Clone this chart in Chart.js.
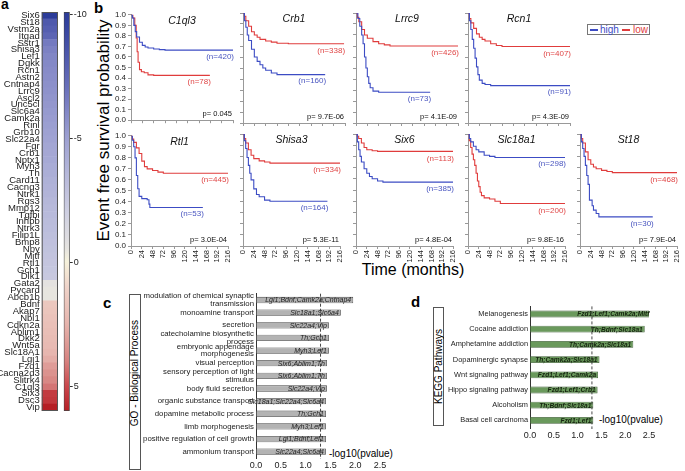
<!DOCTYPE html>
<html><head><meta charset="utf-8">
<script src="https://cdn.jsdelivr.net/npm/chart.js@4.4.1/dist/chart.umd.min.js"></script>
<style>
html,body{margin:0;padding:0;background:#fff;}
body{width:685px;height:471px;position:relative;overflow:hidden;font-family:'Liberation Sans',Arial,sans-serif;color:#000;}
.t{position:absolute;white-space:nowrap;line-height:1;}
.pl{font-weight:bold;font-size:15px;}
.nar{font-family:'Liberation Sans Narrow','Liberation Sans',Arial,sans-serif;}
.vbox{position:absolute;border:1px solid #555;box-sizing:border-box;display:flex;align-items:center;justify-content:center;}
.vbox span{writing-mode:vertical-rl;transform:rotate(180deg);font-size:10px;white-space:nowrap;line-height:1;}
</style></head><body>

<div class="t pl" style="left:1px;top:-3px;font-size:14px;">a</div>
<div class="t pl" style="left:94px;top:0px;">b</div>
<div class="t pl" style="left:103px;top:295px;">c</div>
<div class="t pl" style="left:411px;top:294px;">d</div>

<div class="t" style="left:-27px;top:122px;width:260px;height:17px;font-size:17px;line-height:17px;text-align:center;transform:rotate(-90deg);">Event free survival probability</div>
<div class="t nar" style="left:353px;top:262px;width:120px;text-align:center;font-size:16px;">Time (months)</div>

<div style="position:absolute;left:587px;top:24px;width:63px;height:11px;border:1px solid #777;box-sizing:border-box;">
  <div style="position:absolute;left:2px;top:4px;width:8px;height:1.5px;background:#3c4cc4;"></div>
  <div class="t" style="left:12px;top:-0.5px;font-size:10px;color:#3c4cc4;">high</div>
  <div style="position:absolute;left:34px;top:4px;width:8px;height:1.5px;background:#e03c3c;"></div>
  <div class="t" style="left:45px;top:-0.5px;font-size:10px;color:#e03c3c;">low</div>
</div>

<div class="vbox" style="left:129px;top:294px;width:12px;height:176px;padding-bottom:18px;"><span>GO - Biological Process</span></div>
<div class="vbox" style="left:433px;top:307px;width:11px;height:119px;"><span>KEGG Pathways</span></div>
<div class="t nar" style="left:329px;top:449px;font-size:10px;">-log10(pvalue)</div>
<div class="t nar" style="left:599px;top:415px;font-size:10px;">-log10(pvalue)</div>

<script>
// ---------- panel a: heatmap ----------
const heatGenes = ['Six6','St18','Vstm2a','Itgad','Sstr1','Shisa3','Lef1','Dgkk','Rcn1','Astn2','Cntnap4','Lrrc9','Ascl2','Unc5cl','Slc6a4','Camk2a','Rinl','Grb10','Slc22a4','Fgr','Crb1','Nptx1','Myh3','Th','Card11','Cacng3','Ntrk1','Rgs3','Mmp12','Tgfbi','Inhbb','Ntrk3','Filip1L','Bmp8','Npy','Mitf','Rtl1','Gch1','Dlk1','Gata2','Pycard','Abcb1b','Bdnf','Akap7','Nbl1','Cdkn2a','Ablim1','Dkk2','Wnt5a','Slc18A1','Lgi1','Fzd1','Cacna2d3','Slitrk4','C1ql3','Six3','Dsc3','Vip'];
const heatValues = [-10,-8.3,-8.0,-7.6,-6.6,-6.3,-6.1,-6.0,-5.9,-5.8,-5.7,-5.6,-5.5,-5.4,-5.3,-5.2,-5.1,-5.0,-4.9,-4.7,-4.6,-4.5,-4.3,-4.2,-4.0,-3.9,-3.8,-3.6,-3.5,-3.4,-3.3,-3.2,-3.1,-3.0,-2.9,-2.8,-2.7,-2.6,-2.5,-0.6,-0.5,-0.5,1.6,1.7,1.8,1.9,2.0,2.1,2.2,2.4,2.7,3.2,3.5,3.8,4.2,5.3,5.4,6.0];
const colorbarRange = [-10.1, 6.0];
const colorbarTicks = [-10, -5, 0, 5];

// ---------- panel b: Kaplan-Meier curves [months, survival] ----------
const kmGenes = ['C1ql3','Crb1','Lrrc9','Rcn1','Rtl1','Shisa3','Six6','Slc18a1','St18'];
const kmP = ['0.045','9.7E-06','4.1E-09','4.3E-09','3.0E-04','5.3E-11','4.8E-04','9.8E-16','7.9E-04'];
const kmHighN = [420,160,73,91,53,164,385,298,30];
const kmLowN = [78,338,426,407,445,334,113,200,468];
const c1ql3High = [[0,1],[3,0.97],[6,0.9],[9,0.84],[12,0.79],[18,0.74],[24,0.71],[30,0.695],[36,0.685],[48,0.675],[60,0.67],[72,0.665],[216,0.665]];
const c1ql3Low = [[0,1],[4,0.97],[8,0.9],[11,0.78],[13,0.65],[15,0.55],[18,0.48],[22,0.46],[28,0.45],[36,0.43],[48,0.425],[167,0.425]];
const crb1High = [[0,1],[3,0.93],[6,0.87],[9,0.8],[12,0.75],[18,0.67],[24,0.6],[30,0.56],[36,0.53],[42,0.5],[48,0.48],[60,0.455],[72,0.44],[174,0.44]];
const crb1Low = [[0,1],[3,0.97],[6,0.93],[12,0.88],[18,0.83],[24,0.8],[30,0.78],[36,0.76],[48,0.745],[60,0.735],[72,0.725],[96,0.72],[214,0.72]];
const lrrc9High = [[0,1],[4,0.95],[8,0.88],[12,0.8],[15,0.72],[18,0.6],[21,0.5],[24,0.42],[27,0.36],[30,0.32],[36,0.29],[48,0.28],[157,0.28]];
const lrrc9Low = [[0,1],[3,0.96],[6,0.92],[12,0.85],[18,0.8],[24,0.77],[36,0.74],[48,0.72],[60,0.71],[72,0.70],[216,0.70]];
const rcn1High = [[0,1],[3,0.93],[6,0.85],[9,0.76],[12,0.68],[15,0.59],[18,0.51],[21,0.44],[24,0.39],[30,0.36],[36,0.35],[48,0.34],[216,0.34]];
const rcn1Low = [[0,1],[3,0.95],[6,0.91],[12,0.86],[18,0.81],[24,0.78],[30,0.76],[36,0.745],[48,0.72],[60,0.705],[72,0.695],[216,0.69]];
const rtl1High = [[0,1],[3,0.96],[6,0.9],[9,0.8],[12,0.64],[15,0.52],[18,0.45],[24,0.43],[36,0.42],[40,0.38],[42,0.35],[160,0.35]];
const rtl1Low = [[0,1],[3,0.97],[6,0.94],[12,0.89],[18,0.84],[24,0.77],[30,0.72],[36,0.7],[48,0.685],[60,0.67],[72,0.66],[216,0.66]];
const shisa3High = [[0,1],[3,0.94],[6,0.87],[9,0.79],[12,0.72],[15,0.65],[18,0.59],[24,0.51],[30,0.46],[36,0.44],[48,0.41],[60,0.4],[188,0.4]];
const shisa3Low = [[0,1],[3,0.96],[6,0.92],[12,0.86],[18,0.81],[24,0.78],[36,0.76],[48,0.75],[60,0.74],[216,0.735]];
const six6High = [[0,1],[3,0.93],[6,0.86],[9,0.8],[12,0.75],[18,0.69],[24,0.65],[30,0.62],[36,0.6],[48,0.58],[60,0.57],[216,0.57]];
const six6Low = [[0,1],[3,0.98],[6,0.96],[12,0.92],[18,0.88],[24,0.86],[36,0.85],[48,0.845],[216,0.84]];
const slc18a1High = [[0,1],[3,0.96],[6,0.93],[12,0.89],[18,0.86],[24,0.84],[36,0.81],[48,0.8],[60,0.79],[216,0.79]];
const slc18a1Low = [[0,1],[3,0.94],[6,0.88],[9,0.82],[12,0.77],[15,0.72],[18,0.65],[21,0.58],[24,0.53],[27,0.48],[30,0.45],[36,0.43],[48,0.42],[60,0.4],[72,0.38],[216,0.375]];
const st18High = [[0,1],[3,0.93],[6,0.87],[9,0.8],[12,0.72],[15,0.63],[18,0.55],[21,0.41],[27,0.36],[30,0.32],[36,0.29],[42,0.26],[162,0.26]];
const st18Low = [[0,1],[3,0.96],[6,0.92],[12,0.84],[18,0.77],[24,0.73],[30,0.705],[36,0.69],[48,0.675],[60,0.665],[72,0.655],[216,0.65]];
const kmHigh = [c1ql3High, crb1High, lrrc9High, rcn1High, rtl1High, shisa3High, six6High, slc18a1High, st18High];
const kmLow = [c1ql3Low, crb1Low, lrrc9Low, rcn1Low, rtl1Low, shisa3Low, six6Low, slc18a1Low, st18Low];
const kmTimeTicks = [0,24,48,72,96,120,144,168,192,216];

// ---------- panel c: GO ----------
const goTerms = [['modulation of chemical synaptic','transmission'],'monoamine transport','secretion',['catecholamine biosynthetic','process'],['embryonic appendage','morphogenesis'],'visual perception',['sensory perception of light','stimulus'],'body fluid secretion','organic substance transport','dopamine metabolic process','limb morphogenesis','positive regulation of cell growth','ammonium transport'];
const goValues = [1.96,1.71,1.47,1.47,1.47,1.43,1.43,1.43,1.41,1.41,1.41,1.41,1.41];
const goGenes = ['Lgi1;Bdnf;Camk2a;Cntnap4','Slc18a1;Slc6a4','Slc22a4;Vip','Th;Gch1','Myh3;Lef1','Six6;Ablim1;Th','Six6;Ablim1;Th','Slc22a4;Vip','Slc18a1;Slc22a4;Slc6a4','Th;Gch1','Myh3;Lef1','Lgi1;Bdnf;Lef1','Slc22a4;Slc6a4'];

// ---------- panel d: KEGG ----------
const keggTerms = ['Melanogenesis','Cocaine addiction','Amphetamine addiction','Dopaminergic synapse','Wnt signaling pathway','Hippo signaling pathway','Alcoholism','Basal cell carcinoma'];
const keggValues = [2.55,2.41,2.17,1.46,1.43,1.42,1.33,1.33];
const keggGenes = ['Fzd1;Lef1;Camk2a;Mitf','Th;Bdnf;Slc18a1','Th;Camk2a;Slc18a1','Th;Camk2a;Slc18a1','Fzd1;Lef1;Camk2a','Fzd1;Lef1;Crb1','Th;Bdnf;Slc18a1','Fzd1;Lef1'];
const pCutoff = 1.301; // -log10(0.05)

// ---------- style ----------
const narrow = "'Liberation Sans Narrow', 'Liberation Sans', Arial, sans-serif";
const regular = "'Liberation Sans', Arial, sans-serif";
const BLUE = '#3c4cc4', RED = '#e03c3c', BLUE_T = '#4a56c0', RED_T = '#e04848';
const cmapStops = [[-10,[43,59,153]],[-7,[106,112,187]],[-5,[158,161,210]],[-2,[207,208,226]],[-0.6,[228,226,224]],[0,[247,243,220]],[1,[239,211,201]],[2.5,[230,180,173]],[4,[214,129,127]],[5,[201,71,76]],[6,[181,31,37]]];
function cmap(v){
  if (v <= cmapStops[0][0]) return 'rgb(' + cmapStops[0][1].join(',') + ')';
  for (let i = 1; i < cmapStops.length; i++) {
    const [v1, c1] = cmapStops[i];
    const [v0, c0] = cmapStops[i-1];
    if (v <= v1) {
      const f = (v - v0) / (v1 - v0);
      return 'rgb(' + c0.map((c, j) => Math.round(c + (c1[j] - c) * f)).join(',') + ')';
    }
  }
  return 'rgb(' + cmapStops[cmapStops.length-1][1].join(',') + ')';
}

Chart.defaults.font.family = regular;
Chart.defaults.animation = false;
Chart.defaults.responsive = false;
Chart.defaults.color = '#222';
Chart.defaults.plugins.legend.display = false;
Chart.defaults.plugins.tooltip.enabled = false;

function makeCanvas(left, top, w, h){
  const c = document.createElement('canvas');
  c.width = w; c.height = h;
  c.style.position = 'absolute'; c.style.left = left + 'px'; c.style.top = top + 'px';
  c.style.width = w + 'px'; c.style.height = h + 'px';
  document.body.appendChild(c);
  return c;
}

const outlinePlugin = { id:'outline', afterDatasetsDraw(chart){
  const a = chart.chartArea, c = chart.ctx;
  c.save(); c.strokeStyle = '#555'; c.lineWidth = 1;
  c.strokeRect(a.left + 0.5, a.top + 0.5, a.right - a.left - 1, a.bottom - a.top - 1);
  c.restore();
}};

// heatmap
new Chart(makeCanvas(0, 0, 60, 471), {
  type: 'bar',
  data: { labels: heatGenes, datasets: [{ data: heatGenes.map(() => 1), backgroundColor: heatValues.map(cmap), borderWidth: 0, barPercentage: 1, categoryPercentage: 1 }] },
  options: {
    indexAxis: 'y',
    layout: { padding: { top: 12, bottom: 60, right: 2 } },
    scales: {
      x: { display: false, min: 0, max: 1 },
      y: { afterFit: s => { s.width = 41.7; }, grid: { display: false, drawTicks: false }, border: { display: false },
           ticks: { autoSkip: false, padding: 2, font: { size: 9.5, family: narrow }, color: '#222' } }
    }
  },
  plugins: [outlinePlugin]
});

// colorbar
new Chart(makeCanvas(60, 0, 40, 471), {
  type: 'bar',
  data: { labels: ['scale'], datasets: [{
    data: [colorbarRange],
    backgroundColor: (ctx) => {
      const ch = ctx.chart; if (!ch.chartArea) return '#ccc';
      const ys = ch.scales.y;
      const y0 = ys.getPixelForValue(colorbarRange[0]), y1 = ys.getPixelForValue(colorbarRange[1]);
      const g = ch.ctx.createLinearGradient(0, y0, 0, y1);
      for (let i = 0; i <= 32; i++) {
        const v = colorbarRange[0] + (colorbarRange[1] - colorbarRange[0]) * i / 32;
        g.addColorStop(i / 32, cmap(v));
      }
      return g;
    },
    borderColor: '#444', borderWidth: 1, borderSkipped: false, barPercentage: 1, categoryPercentage: 1 }] },
  options: {
    layout: { padding: { top: 12, bottom: 60, left: 3.7 } },
    scales: {
      x: { display: false },
      y: { position: 'right', reverse: true, min: colorbarRange[0], max: colorbarRange[1],
           afterFit: s => { s.width = 30.3; },
           afterBuildTicks: s => { s.ticks = colorbarTicks.map(v => ({ value: v })); },
           ticks: { padding: 1, font: { size: 9 }, color: '#222' },
           grid: { drawOnChartArea: false, tickLength: 3, color: '#333' }, border: { display: false } }
    }
  }
});

// KM plots
const kmTextPlugin = { id: 'kmText', afterDatasetsDraw(chart, args, opts){
  const k = opts.index, a = chart.chartArea, c = chart.ctx;
  const xs = chart.scales.x, ys = chart.scales.y;
  c.save();
  c.fillStyle = '#111'; c.font = 'italic 10.5px ' + narrow; c.textAlign = 'center'; c.textBaseline = 'top';
  c.fillText(kmGenes[k], (a.left + a.right) / 2, a.top + 1);
  c.font = '7.5px ' + narrow; c.textAlign = 'right'; c.textBaseline = 'middle';
  c.fillText('p= ' + kmP[k], a.right - 1, a.bottom - 6);
  [[kmHigh[k], kmHighN[k], BLUE_T], [kmLow[k], kmLowN[k], RED_T]].forEach(([pts, n, col]) => {
    const last = pts[pts.length - 1];
    c.fillStyle = col; c.font = '8px ' + narrow;
    c.fillText('(n=' + n + ')', xs.getPixelForValue(last[0]) + 1, ys.getPixelForValue(last[1]) + 6.5);
  });
  c.restore();
}};

const toXY = arr => arr.map(p => ({ x: p[0], y: p[1] }));
const colLefts = [131, 243, 356, 468, 580];
const rows = [{ top: 13, h: 110.3 }, { top: 134.3, h: 111.7 }];
const kmPos = [[0,0],[0,1],[0,2],[0,3],[1,0],[1,1],[1,2],[1,3],[1,4]];

kmGenes.forEach((g, k) => {
  const [r, col] = kmPos[k];
  const firstCol = col === 0, lastRow = r === 1;
  const yW = firstCol ? 24 : 5, xH = lastRow ? 19 : 4, padTop = 5, padRight = 5;
  const areaLeft = colLefts[col], areaTop = rows[r].top, areaH = rows[r].h;
  const cv = makeCanvas(areaLeft - yW, areaTop - padTop, Math.round(yW + 102 + padRight), Math.round(padTop + areaH + xH));
  new Chart(cv, {
    type: 'line',
    data: { datasets: [
      { data: toXY(kmHigh[k]), borderColor: BLUE, borderWidth: 1.1, stepped: 'before', pointRadius: 0, fill: false },
      { data: toXY(kmLow[k]), borderColor: RED, borderWidth: 1.1, stepped: 'before', pointRadius: 0, fill: false }
    ]},
    options: {
      layout: { padding: { top: padTop, right: padRight } },
      scales: {
        x: { type: 'linear', min: 0, max: 216, afterFit: s => { s.height = xH; },
             afterBuildTicks: s => { s.ticks = kmTimeTicks.map(v => ({ value: v })); },
             ticks: { display: lastRow, autoSkip: false, minRotation: 90, maxRotation: 90, font: { size: 7.5 }, padding: 1, color: '#222' },
             grid: { drawOnChartArea: false, tickLength: 3, color: '#999' }, border: { color: '#999' } },
        y: { min: 0, max: 1, afterFit: s => { s.width = yW; },
             ticks: { stepSize: 0.1, autoSkip: false, display: firstCol, callback: v => Number(v).toFixed(1), font: { size: 8 }, padding: 2, color: '#222' },
             grid: { drawOnChartArea: false, tickLength: 3, color: '#999' }, border: { color: '#999' } }
      },
      plugins: { kmText: { index: k } }
    },
    plugins: [kmTextPlugin]
  });
});

// bar panels
const barTextPlugin = { id: 'barText', afterDatasetsDraw(chart, args, opts){
  const meta = chart.getDatasetMeta(0), c = chart.ctx, a = chart.chartArea;
  c.save();
  c.font = opts.font; c.fillStyle = opts.color; c.textAlign = 'right'; c.textBaseline = 'middle';
  meta.data.forEach((bar, i) => { c.fillText(opts.texts[i], bar.x - 2, bar.y + 0.5); });
  const x = chart.scales.x.getPixelForValue(pCutoff);
  c.strokeStyle = '#333'; c.lineWidth = 0.9; c.setLineDash([3, 2]);
  c.beginPath(); c.moveTo(x, a.top); c.lineTo(x, a.bottom + 1); c.stroke();
  c.restore();
}};

function barPanel(left, top, yW, areaW, areaH, padTop, xH, labels, values, texts, bg, bd, pct, labelSize, textFont, textColor){
  new Chart(makeCanvas(left, top, Math.round(yW + areaW + 20), Math.round(padTop + areaH + xH)), {
    type: 'bar',
    data: { labels: labels, datasets: [{ data: values, backgroundColor: bg, borderColor: bd, borderWidth: 0.8, borderSkipped: false, barPercentage: pct, categoryPercentage: 1 }] },
    options: {
      indexAxis: 'y',
      layout: { padding: { top: padTop, right: 20 } },
      scales: {
        x: { min: 0, max: 2.5, afterFit: s => { s.height = xH; },
             ticks: { stepSize: 0.5, callback: v => Number(v).toFixed(1), font: { size: 9, family: narrow }, padding: 2, color: '#222', maxRotation: 0 },
             grid: { display: false, drawTicks: false }, border: { display: false } },
        y: { afterFit: s => { s.width = yW; },
             ticks: { autoSkip: false, padding: 2, font: { size: labelSize, family: narrow, lineHeight: 0.95 }, color: '#222' },
             grid: { display: false, drawTicks: false }, border: { display: true, color: '#333', width: 1 } }
      },
      plugins: { barText: { texts: texts, font: textFont, color: textColor } }
    },
    plugins: [barTextPlugin]
  });
}

barPanel(140, 288, 116, 124, 164.3, 5.7, 13, goTerms, goValues, goGenes, '#b3b3b3', '#444', 0.5, 7.8, 'italic 7px ' + narrow, '#222');
barPanel(443, 300, 87, 118.5, 121.2, 6.4, 13, keggTerms, keggValues, keggGenes, '#6a995c', '#3a5a30', 0.45, 7.4, 'italic bold 6.6px ' + narrow, '#15240f');
</script>
</body></html>
